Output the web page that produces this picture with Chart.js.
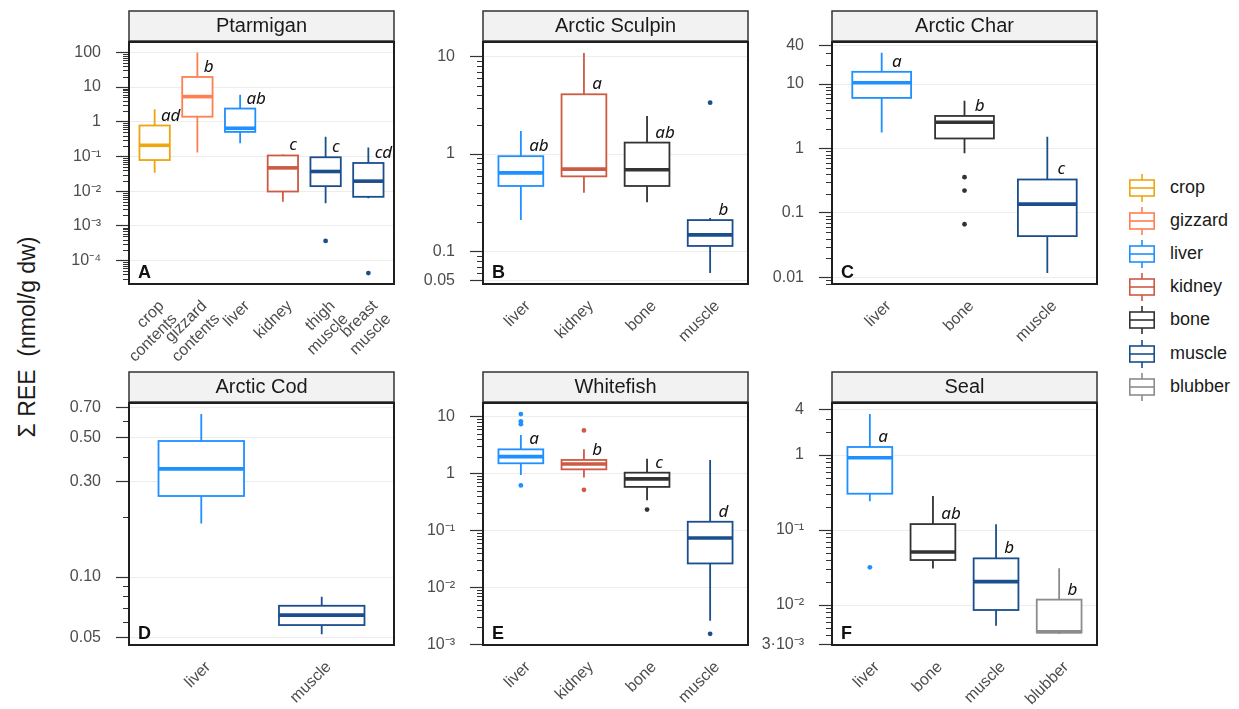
<!DOCTYPE html>
<html>
<head>
<meta charset="utf-8">
<script src="https://cdn.jsdelivr.net/npm/chart.js@4.4.1/dist/chart.umd.min.js"></script>
<style>
  body { margin: 0; width: 1239px; height: 709px; overflow: hidden; position: relative; background: #fff;
         font-family: "Liberation Sans", Arial, sans-serif; }
  canvas.panel { position: absolute; }
  #ytitle { position: absolute; left: 27px; top: 337px; transform: translate(-50%, -50%) rotate(-90deg);
            font-size: 23px; white-space: pre; color: #1a1a1a; }
  .item { position: absolute; left: 1125px; height: 33px; width: 110px; }
  .item svg { position: absolute; left: 0; top: 0; }
  .lab { position: absolute; left: 45px; top: 5px; font-size: 18px; color: #1a1a1a; white-space: nowrap; }
</style>
</head>
<body>
<div id="ytitle">Σ REE  (nmol/g dw)</div>
<div id="legend"></div>
<script>
// Box statistics are [lower whisker, Q1, median, Q3, upper whisker] in nmol/g dw.

// A - Ptarmigan
const ptarmiganTissues = ['crop', 'gizzard', 'liver', 'kidney', 'muscle', 'muscle'];
const ptarmiganLabels = [['crop', 'contents'], ['gizzard', 'contents'], 'liver', 'kidney', ['thigh', 'muscle'], ['breast', 'muscle']];
const ptarmiganBoxes = [
  [0.034, 0.079, 0.21, 0.78, 2.3],
  [0.13, 1.4, 5.3, 19.5, 98],
  [0.24, 0.51, 0.65, 2.4, 6.0],
  [0.005, 0.0098, 0.047, 0.107, 0.115],
  [0.0045, 0.014, 0.037, 0.095, 0.37],
  [0.0063, 0.0069, 0.0195, 0.065, 0.18]
];
const ptarmiganOutliers = [[], [], [], [], [3.7e-4], [4.4e-5]];
const ptarmiganLetters = ['ad', 'b', 'ab', 'c', 'c', 'cd'];
const ptarmiganTicks = [1e-4, 1e-3, 1e-2, 1e-1, 1, 10, 100];
const ptarmiganTickLabels = ['10⁻⁴', '10⁻³', '10⁻²', '10⁻¹', '1', '10', '100'];

// B - Arctic Sculpin
const sculpinTissues = ['liver', 'kidney', 'bone', 'muscle'];
const sculpinBoxes = [
  [0.21, 0.47, 0.64, 0.95, 1.72],
  [0.40, 0.59, 0.70, 4.1, 10.9],
  [0.32, 0.47, 0.69, 1.31, 2.45],
  [0.060, 0.114, 0.148, 0.21, 0.22]
];
const sculpinOutliers = [[], [], [], [3.36]];
const sculpinLetters = ['ab', 'a', 'ab', 'b'];
const sculpinTicks = [0.05, 0.1, 1, 10];
const sculpinTickLabels = ['0.05', '0.1', '1', '10'];

// C - Arctic Char
const charTissues = ['liver', 'bone', 'muscle'];
const charBoxes = [
  [1.77, 6.1, 10.5, 15.5, 30.7],
  [0.84, 1.43, 2.56, 3.2, 5.5],
  [0.0117, 0.0436, 0.137, 0.33, 1.52]
];
const charOutliers = [[], [0.358, 0.222, 0.0666], []];
const charLetters = ['a', 'b', 'c'];
const charTicks = [0.01, 0.1, 1, 10, 40];
const charTickLabels = ['0.01', '0.1', '1', '10', '40'];

// D - Arctic Cod
const codTissues = ['liver', 'muscle'];
const codBoxes = [
  [0.185, 0.254, 0.347, 0.478, 0.652],
  [0.0518, 0.0576, 0.0646, 0.0719, 0.0797]
];
const codOutliers = [[], []];
const codLetters = ['', ''];
const codTicks = [0.05, 0.1, 0.3, 0.5, 0.7];
const codTickLabels = ['0.05', '0.10', '0.30', '0.50', '0.70'];

// E - Whitefish
const whitefishTissues = ['liver', 'kidney', 'bone', 'muscle'];
const whitefishBoxes = [
  [0.95, 1.52, 1.99, 2.67, 4.76],
  [0.86, 1.19, 1.48, 1.74, 2.67],
  [0.342, 0.585, 0.81, 1.04, 1.83],
  [0.0026, 0.0265, 0.074, 0.143, 1.74]
];
const whitefishOutliers = [[11.1, 8.3, 7.4, 0.62], [5.75, 0.52], [0.234], [0.00154]];
const whitefishLetters = ['a', 'b', 'c', 'd'];
const whitefishTicks = [1e-3, 1e-2, 1e-1, 1, 10];
const whitefishTickLabels = ['10⁻³', '10⁻²', '10⁻¹', '1', '10'];

// F - Seal
const sealTissues = ['liver', 'bone', 'muscle', 'blubber'];
const sealBoxes = [
  [0.241, 0.305, 0.92, 1.28, 3.52],
  [0.0308, 0.0398, 0.0509, 0.12, 0.284],
  [0.0053, 0.00858, 0.0205, 0.0419, 0.119],
  [0.0041, 0.0043, 0.0044, 0.0118, 0.0309]
];
const sealOutliers = [[0.0318], [], [], []];
const sealLetters = ['a', 'ab', 'b', 'b'];
const sealTicks = [3e-3, 1e-2, 1e-1, 1, 4];
const sealTickLabels = ['3·10⁻³', '10⁻²', '10⁻¹', '1', '4'];

const legendTissues = ['crop', 'gizzard', 'liver', 'kidney', 'bone', 'muscle', 'blubber'];
const tissueColours = {
  crop: '#EEA50F', gizzard: '#FF7F50', liver: '#1E90FF', kidney: '#CD5A44',
  bone: '#333333', muscle: '#1A4E8C', blubber: '#8C8C8C'
};

const FONT = '"Liberation Sans", Arial, sans-serif';
const PLOT_W = 265, PLOT_H = 242, AXIS_W = 70, TOP_PAD = 40, RIGHT_PAD = 10;
const BOX_WIDTH = 0.71;

// minor log ticks (2..9 per decade) between the axis limits
function minorTicks(min, max, major) {
  const out = [];
  for (let e = Math.floor(Math.log10(min)); e <= Math.ceil(Math.log10(max)); e++) {
    for (let m = 1; m < 10; m++) {
      const v = m * Math.pow(10, e);
      if (v >= min && v <= max && !major.some(t => Math.abs(t - v) / v < 1e-6)) out.push(v);
    }
  }
  return out;
}

function makePanel(p) {
  const canvas = document.createElement('canvas');
  canvas.className = 'panel';
  const cw = AXIS_W + PLOT_W + RIGHT_PAD;
  canvas.width = cw;
  canvas.height = p.canvasH;
  canvas.style.left = (p.left - AXIS_W) + 'px';
  canvas.style.top = (p.top - TOP_PAD) + 'px';
  document.body.appendChild(canvas);

  const n = p.tissues.length;
  const points = [], pointColours = [];
  p.outliers.forEach((list, i) => list.forEach(v => {
    points.push({ x: i + 1, y: v });
    pointColours.push(tissueColours[p.tissues[i]]);
  }));
  const minors = minorTicks(p.min, p.max, p.ticks);

  const panelPlugin = {
    id: 'panelDecor',
    beforeDraw(chart) {
      const { ctx, chartArea: a } = chart;
      ctx.save();
      ctx.fillStyle = '#F2F2F2';
      ctx.strokeStyle = '#333';
      ctx.lineWidth = 1.5;
      ctx.fillRect(a.left, a.top - 31, a.width, 30);
      ctx.strokeRect(a.left, a.top - 31, a.width, 30);
      ctx.fillStyle = '#1a1a1a';
      ctx.font = '20px ' + FONT;
      ctx.textAlign = 'center';
      ctx.textBaseline = 'middle';
      ctx.fillText(p.title, (a.left + a.right) / 2, a.top - 15.5);
      ctx.restore();
    },
    beforeDatasetsDraw(chart) {
      const { ctx, chartArea: a, scales: { x, y } } = chart;
      ctx.save();
      ctx.beginPath();
      ctx.rect(a.left, a.top, a.width, a.height);
      ctx.clip();
      p.boxes.forEach((b, i) => {
        const [lo, q1, med, q3, hi] = b;
        const colour = tissueColours[p.tissues[i]];
        const cx = x.getPixelForValue(i + 1);
        const x0 = x.getPixelForValue(i + 1 - BOX_WIDTH / 2);
        const x1 = x.getPixelForValue(i + 1 + BOX_WIDTH / 2);
        const yLo = y.getPixelForValue(lo), yQ1 = y.getPixelForValue(q1);
        const yMed = y.getPixelForValue(med), yQ3 = y.getPixelForValue(q3);
        const yHi = y.getPixelForValue(hi);
        ctx.strokeStyle = colour;
        ctx.lineWidth = 1.8;
        ctx.beginPath();
        ctx.moveTo(cx, yHi); ctx.lineTo(cx, yQ3);
        ctx.moveTo(cx, yQ1); ctx.lineTo(cx, yLo);
        ctx.stroke();
        ctx.fillStyle = '#fff';
        ctx.fillRect(x0, yQ3, x1 - x0, yQ1 - yQ3);
        ctx.strokeRect(x0, yQ3, x1 - x0, yQ1 - yQ3);
        ctx.lineWidth = 3.6;
        ctx.beginPath();
        ctx.moveTo(x0, yMed); ctx.lineTo(x1, yMed);
        ctx.stroke();
      });
      ctx.restore();

      // group letters from the pairwise comparisons
      ctx.save();
      ctx.fillStyle = '#111';
      ctx.font = 'italic 17px "Noto Sans", ' + FONT;
      ctx.textAlign = 'left';
      ctx.textBaseline = 'alphabetic';
      p.letters.forEach((txt, i) => {
        if (!txt) return;
        const lx = x.getPixelForValue(i + 1.1) + 2;
        const ly = y.getPixelForValue(p.boxes[i][3]) - 5;
        ctx.fillText(txt, lx, ly);
      });
      ctx.restore();
    },
    afterDraw(chart) {
      const { ctx, chartArea: a, scales: { y } } = chart;
      ctx.save();
      ctx.strokeStyle = '#333';
      ctx.lineWidth = 1.1;
      ctx.beginPath();
      minors.forEach(v => {
        const py = Math.round(y.getPixelForValue(v)) + 0.5;
        ctx.moveTo(a.left - 6, py);
        ctx.lineTo(a.left, py);
      });
      ctx.stroke();
      ctx.strokeStyle = '#1f1f1f';
      ctx.lineWidth = 2;
      ctx.strokeRect(a.left, a.top, a.width, a.height);
      ctx.fillStyle = '#111';
      ctx.font = 'bold 18px ' + FONT;
      ctx.textAlign = 'left';
      ctx.textBaseline = 'alphabetic';
      ctx.fillText(p.tag, a.left + 9, a.bottom - 6);
      ctx.restore();
    }
  };

  return new Chart(canvas, {
    type: 'scatter',
    data: {
      datasets: [{
        data: points,
        pointBackgroundColor: pointColours,
        pointBorderWidth: 0,
        pointRadius: 2.4,
        pointHoverRadius: 2.4
      }]
    },
    options: {
      responsive: false,
      animation: false,
      devicePixelRatio: 1,
      layout: { padding: { top: TOP_PAD, right: RIGHT_PAD, left: 0, bottom: 0 } },
      plugins: { legend: { display: false }, tooltip: { enabled: false } },
      scales: {
        x: {
          type: 'linear',
          min: 0.4,
          max: n + 0.6,
          afterBuildTicks: s => { s.ticks = p.tissues.map((t, i) => ({ value: i + 1 })); },
          afterFit: s => { s.height = p.canvasH - TOP_PAD - PLOT_H; },
          ticks: {
            autoSkip: false,
            minRotation: 45,
            maxRotation: 45,
            padding: 5,
            labelOffset: 7,
            color: '#4D4D4D',
            font: { family: FONT, size: 16, lineHeight: 1.15 },
            callback: (v, i) => p.labels[i]
          },
          grid: { display: false },
          border: { display: false }
        },
        y: {
          type: 'logarithmic',
          min: p.min,
          max: p.max,
          afterBuildTicks: s => { s.ticks = p.ticks.map(v => ({ value: v })); },
          afterFit: s => { s.width = AXIS_W; },
          ticks: {
            autoSkip: false,
            padding: 15,
            color: '#4D4D4D',
            font: { family: FONT, size: 16 },
            callback: (v, i) => p.tickLabels[i]
          },
          grid: { color: '#EDEDED', lineWidth: 1, drawTicks: true, tickLength: 13, tickColor: '#333', tickWidth: 1.2 },
          border: { display: false }
        }
      }
    },
    plugins: [panelPlugin]
  });
}

const ROW1 = 42, ROW2 = 403;
const COLS = [129, 483, 832];

makePanel({ left: COLS[0], top: ROW1, canvasH: 360, title: 'Ptarmigan', tag: 'A',
  tissues: ptarmiganTissues, labels: ptarmiganLabels, boxes: ptarmiganBoxes, outliers: ptarmiganOutliers,
  letters: ptarmiganLetters, ticks: ptarmiganTicks, tickLabels: ptarmiganTickLabels, min: 2.13e-5, max: 198 });

makePanel({ left: COLS[1], top: ROW1, canvasH: 360, title: 'Arctic Sculpin', tag: 'B',
  tissues: sculpinTissues, labels: sculpinTissues, boxes: sculpinBoxes, outliers: sculpinOutliers,
  letters: sculpinLetters, ticks: sculpinTicks, tickLabels: sculpinTickLabels, min: 0.0464, max: 14.1 });

makePanel({ left: COLS[2], top: ROW1, canvasH: 360, title: 'Arctic Char', tag: 'C',
  tissues: charTissues, labels: charTissues, boxes: charBoxes, outliers: charOutliers,
  letters: charLetters, ticks: charTicks, tickLabels: charTickLabels, min: 0.00787, max: 45 });

makePanel({ left: COLS[0], top: ROW2, canvasH: 346, title: 'Arctic Cod', tag: 'D',
  tissues: codTissues, labels: codTissues, boxes: codBoxes, outliers: codOutliers,
  letters: codLetters, ticks: codTicks, tickLabels: codTickLabels, min: 0.0458, max: 0.740 });

makePanel({ left: COLS[1], top: ROW2, canvasH: 346, title: 'Whitefish', tag: 'E',
  tissues: whitefishTissues, labels: whitefishTissues, boxes: whitefishBoxes, outliers: whitefishOutliers,
  letters: whitefishLetters, ticks: whitefishTicks, tickLabels: whitefishTickLabels, min: 0.00098, max: 17.4 });

makePanel({ left: COLS[2], top: ROW2, canvasH: 346, title: 'Seal', tag: 'F',
  tissues: sealTissues, labels: sealTissues, boxes: sealBoxes, outliers: sealOutliers,
  letters: sealLetters, ticks: sealTicks, tickLabels: sealTickLabels, min: 0.00293, max: 4.94 });

// tissue legend: small boxplot glyph plus name
const legend = document.getElementById('legend');
legendTissues.forEach((t, i) => {
  const item = document.createElement('div');
  item.className = 'item';
  item.style.top = Math.round(188 + 33.1 * i - 16) + 'px';
  const c = tissueColours[t];
  item.innerHTML =
    '<svg width="34" height="33" viewBox="0 0 34 33">' +
    '<g fill="none" stroke="' + c + '" stroke-width="1.6">' +
    '<line x1="17" y1="2" x2="17" y2="8"/><line x1="17" y1="24" x2="17" y2="30"/>' +
    '<rect x="4.8" y="8" width="24.4" height="16" fill="#fff"/>' +
    '<line x1="4.8" y1="16" x2="29.2" y2="16"/></g></svg>' +
    '<div class="lab">' + t + '</div>';
  legend.appendChild(item);
});
</script>
</body>
</html>
